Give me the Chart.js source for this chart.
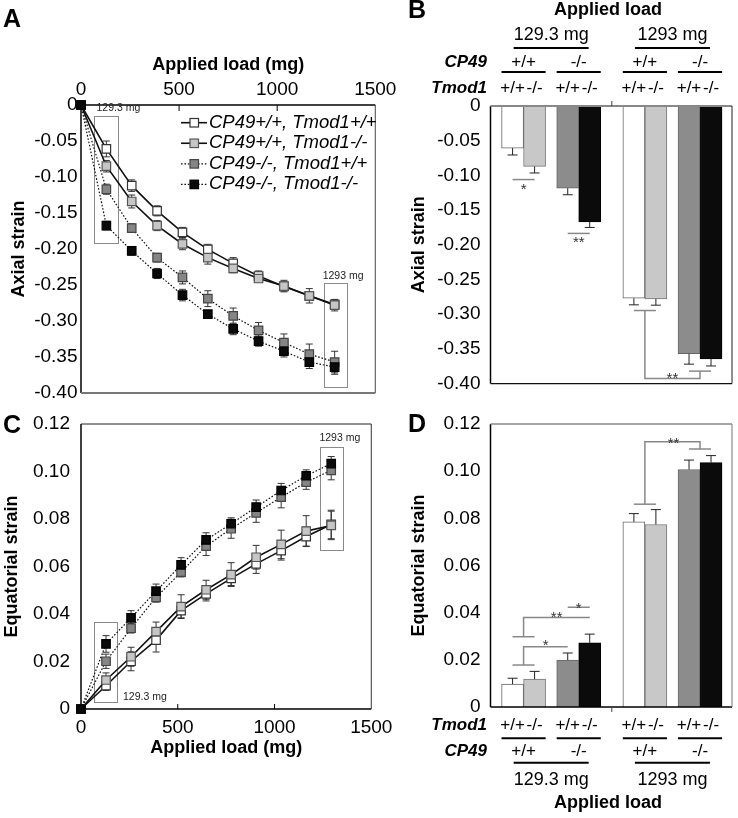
<!DOCTYPE html>
<html><head><meta charset="utf-8">
<script src="https://cdn.jsdelivr.net/npm/chart.js@4.4.0/dist/chart.umd.min.js"></script>
<style>
html,body{margin:0;padding:0;background:#fff;}
#wrap{position:relative;width:738px;height:818px;overflow:hidden;background:#fff;}
canvas{position:absolute;}
</style></head><body>
<div id="wrap">
<canvas id="cA" width="400" height="410" style="left:0;top:0;width:400px;height:410px"></canvas>
<canvas id="cC" width="400" height="418" style="left:0;top:400px;width:400px;height:418px"></canvas>
<canvas id="cB" width="358" height="405" style="left:380px;top:0;width:358px;height:405px"></canvas>
<canvas id="cD" width="358" height="418" style="left:380px;top:400px;width:358px;height:418px"></canvas>
</div>
<script>
// ---------------- DATA ----------------
const loads = [0, 129.3, 258.6, 387.9, 517.2, 646.5, 775.8, 905.1, 1034.4, 1163.7, 1293];
const seriesNames = ['CP49+/+, Tmod1+/+', 'CP49+/+, Tmod1-/-', 'CP49-/-, Tmod1+/+', 'CP49-/-, Tmod1-/-'];

// Panel A: axial strain
const axialWtWt = [0, -0.061, -0.112, -0.147, -0.177, -0.2005, -0.220, -0.2375, -0.252, -0.265, -0.277];
const axialWtKo = [0, -0.085, -0.134, -0.1675, -0.193, -0.212, -0.227, -0.241, -0.2515, -0.265, -0.278];
const axialKoWt = [0, -0.117, -0.171, -0.212, -0.2395, -0.269, -0.293, -0.313, -0.330, -0.346, -0.357];
const axialKoKo = [0, -0.1675, -0.2025, -0.234, -0.264, -0.2905, -0.311, -0.328, -0.342, -0.357, -0.364];
const axialWtWtErr = [0, 0.011, 0.008, 0.007, 0.007, 0.007, 0.008, 0.007, 0.006, 0.005, 0.005];
const axialWtKoErr = [0, 0.008, 0.009, 0.007, 0.008, 0.009, 0.006, 0.005, 0.008, 0.010, 0.008];
const axialKoWtErr = [0, 0.007, 0.006, 0.006, 0.009, 0.011, 0.011, 0.011, 0.012, 0.014, 0.015];
const axialKoKoErr = [0, 0.006, 0.006, 0.007, 0.008, 0.005, 0.008, 0.007, 0.008, 0.009, 0.010];

// Panel C: equatorial strain
const eqWtWt = [0, 0.0098, 0.0201, 0.029, 0.0414, 0.0485, 0.055, 0.0611, 0.0667, 0.0726, 0.0777];
const eqWtKo = [0, 0.0122, 0.022, 0.0326, 0.0431, 0.0502, 0.0566, 0.0639, 0.0693, 0.0749, 0.0773];
const eqKoWt = [0, 0.0201, 0.034, 0.047, 0.0576, 0.0686, 0.0759, 0.0826, 0.0892, 0.0955, 0.1005];
const eqKoKo = [0, 0.0274, 0.0384, 0.0496, 0.0607, 0.0712, 0.078, 0.085, 0.092, 0.0982, 0.1033];
const eqWtWtErr = [0, 0.002, 0.004, 0.005, 0.003, 0.003, 0.003, 0.004, 0.004, 0.004, 0.006];
const eqWtKoErr = [0, 0.003, 0.004, 0.004, 0.005, 0.004, 0.005, 0.005, 0.006, 0.0065, 0.006];
const eqKoWtErr = [0, 0.003, 0.002, 0.002, 0.002, 0.004, 0.004, 0.004, 0.0045, 0.003, 0.004];
const eqKoKoErr = [0, 0.0035, 0.003, 0.003, 0.003, 0.003, 0.0025, 0.003, 0.003, 0.0025, 0.003];

// Panels B and D: bars, order = [129.3 CP49+/+, 129.3 CP49-/-, 1293 CP49+/+, 1293 CP49-/-]
const barLoads = ['129.3 mg', '1293 mg'];
const cp49Groups = ['+/+', '-/-'];
const tmod1Groups = ['+/+', '-/-'];
const axialBarTmodWt = [-0.0606, -0.1184, -0.277, -0.357];
const axialBarTmodWtErr = [0.010, 0.0095, 0.0095, 0.015];
const axialBarTmodKo = [-0.087, -0.167, -0.278, -0.3646];
const axialBarTmodKoErr = [0.0095, 0.008, 0.009, 0.010];
const eqBarTmodWt = [0.0097, 0.0199, 0.0785, 0.1007];
const eqBarTmodWtErr = [0.0025, 0.003, 0.0035, 0.004];
const eqBarTmodKo = [0.0118, 0.0272, 0.0774, 0.1036];
const eqBarTmodKoErr = [0.0033, 0.0037, 0.0063, 0.003];

// ---------------- SETUP ----------------
const FONT = '"Liberation Sans", Arial, Helvetica, sans-serif';
Chart.defaults.font.family = FONT;
Chart.defaults.font.size = 19;
Chart.defaults.color = '#000';
Chart.defaults.animation = false;
Chart.defaults.events = [];
Chart.defaults.plugins.legend.display = false;
Chart.defaults.plugins.tooltip.enabled = false;

const fmt = v => Math.abs(v) < 1e-9 ? '0' : v.toFixed(2);
const fmtLoad = v => String(Math.round(v));

// series styles
const styles = [
  {fill: '#ffffff', stroke: '#333333', dash: [], lw: 1.6},
  {fill: '#c6c6c6', stroke: '#555555', dash: [], lw: 1.6},
  {fill: '#858585', stroke: '#444444', dash: [1.6, 1.8], lw: 1.2},
  {fill: '#0a0a0a', stroke: '#000000', dash: [1.6, 1.8], lw: 1.2}
];
const drawOrder = [3, 2, 1, 0];

function text(ctx, s, x, y, o = {}) {
  ctx.save();
  ctx.font = `${o.style || 'normal'} ${o.weight || 'normal'} ${o.size || 19}px ${FONT}`;
  ctx.fillStyle = o.color || '#000';
  ctx.textAlign = o.align || 'center';
  ctx.textBaseline = o.base || 'middle';
  ctx.fillText(s, x, y);
  ctx.restore();
}
function poly(ctx, pts, color, w) {
  ctx.save(); ctx.strokeStyle = color; ctx.lineWidth = w; ctx.lineCap = 'butt';
  ctx.beginPath();
  pts.forEach((p, i) => i ? ctx.lineTo(p[0], p[1]) : ctx.moveTo(p[0], p[1]));
  ctx.stroke(); ctx.restore();
}
function star(ctx, s, x, cy) {
  const size = 15;
  text(ctx, s, x, cy + 0.58 * size, {size, base: 'alphabetic', color: '#333'});
}

function yAxis(min, max, step, pad, title, titlePad, width) {
  return {
    type: 'linear', min, max,
    ticks: {stepSize: step, padding: pad, callback: fmt, font: {size: 19}},
    grid: {display: false, drawTicks: false}, border: {display: false},
    title: {display: true, text: title, font: {size: 18, weight: 'bold'}, padding: {top: titlePad, bottom: 0}},
    afterFit: s => { s.width = width; }
  };
}

// error bars: mode 'both' (lines) or 'away' (bars)
const errorBars = {
  id: 'errorBars',
  beforeDatasetsDraw(chart, a, o) { if (o.mode === 'both') drawErr(chart, o); },
  afterDatasetsDraw(chart, a, o) { if (o.mode === 'away') drawErr(chart, o); }
};
function drawErr(chart, o) {
  const ctx = chart.ctx, ys = chart.scales.y;
  chart.data.datasets.forEach((ds, di) => {
    const meta = chart.getDatasetMeta(di);
    ds.errors.forEach((e, i) => {
      if (!e) return;
      const el = meta.data[i], v = ds.data[i].y;
      const cw = o.cap;
      if (o.mode === 'both') {
        const y1 = ys.getPixelForValue(v + e), y2 = ys.getPixelForValue(v - e);
        poly(ctx, [[el.x, y1], [el.x, y2]], o.color, 1);
        poly(ctx, [[el.x - cw, y1], [el.x + cw, y1]], o.color, 1);
        poly(ctx, [[el.x - cw, y2], [el.x + cw, y2]], o.color, 1);
      } else {
        const sgn = v < 0 ? -1 : 1;
        const y2 = ys.getPixelForValue(v + sgn * e);
        poly(ctx, [[el.x, el.y], [el.x, y2]], o.color, 1);
        poly(ctx, [[el.x - cw, y2], [el.x + cw, y2]], o.color, 1);
      }
    });
  });
}

function framePlugin(sides, ticks, when) {
  const fn = (chart) => {
    const ctx = chart.ctx, a = chart.chartArea;
    sides.forEach(s => {
      const p = {left: [[a.left, a.top], [a.left, a.bottom]], right: [[a.right, a.top], [a.right, a.bottom]],
                 top: [[a.left, a.top], [a.right, a.top]], bottom: [[a.left, a.bottom], [a.right, a.bottom]]}[s.side];
      poly(ctx, p, s.color, s.width);
    });
    ticks.forEach(t => {
      const xs = chart.scales.x;
      t.values.forEach(v => {
        const x = xs.getPixelForValue(v);
        const y0 = t.edge === 'top' ? a.top : a.bottom;
        poly(ctx, [[x, y0], [x, y0 + t.len]], t.color || '#000', 1);
      });
    });
  };
  return when === 'before' ? {id: 'frame', beforeDatasetsDraw: fn} : {id: 'frame', afterDatasetsDraw: fn};
}

function boxesPlugin(boxes) {
  return {
    id: 'boxes',
    beforeDatasetsDraw(chart) {
      const ctx = chart.ctx, xs = chart.scales.x, ys = chart.scales.y;
      boxes.forEach(b => {
        const x0 = xs.getPixelForValue(b.x0), x1 = xs.getPixelForValue(b.x1);
        const y0 = ys.getPixelForValue(b.y0), y1 = ys.getPixelForValue(b.y1);
        ctx.save(); ctx.strokeStyle = '#8a8a8a'; ctx.lineWidth = 1;
        ctx.strokeRect(Math.round(x0) + 0.5, Math.round(Math.min(y0, y1)) + 0.5, Math.round(x1 - x0), Math.round(Math.abs(y1 - y0)));
        ctx.restore();
        text(ctx, b.label, xs.getPixelForValue(b.lx), ys.getPixelForValue(b.ly), {size: 10.5, align: 'left', color: '#222'});
      });
    }
  };
}

function letterPlugin(letter, x, y) {
  return {id: 'letter', afterDraw(chart) { text(chart.ctx, letter, x, y, {size: 25, weight: 'bold', base: 'alphabetic', align: 'left'}); }};
}

function lineDatasets(vals, errs) {
  return vals.map((v, k) => ({
    label: seriesNames[k],
    data: loads.map((x, i) => ({x, y: v[i]})),
    errors: errs[k],
    borderColor: '#111', borderWidth: styles[k].lw, borderDash: styles[k].dash,
    pointStyle: 'rect', pointRadius: 6, pointHoverRadius: 6,
    pointBackgroundColor: styles[k].fill, pointBorderColor: styles[k].stroke, pointBorderWidth: 1.2,
    fill: false, tension: 0, clip: false, order: drawOrder[k]
  }));
}

// ---------------- PANEL A ----------------
const legendA = {
  id: 'legendA',
  afterDraw(chart) {
    const ctx = chart.ctx;
    chart.data.datasets.forEach((ds, i) => {
      const y = 122.7 + i * 20.55;
      ctx.save(); ctx.setLineDash(ds.borderDash); 
      poly(ctx, [[181, y], [207, y]], '#111', ds.borderWidth);
      ctx.restore();
      ctx.save();
      ctx.fillStyle = ds.pointBackgroundColor; ctx.strokeStyle = ds.pointBorderColor; ctx.lineWidth = 1.2;
      ctx.fillRect(190, y - 4.2, 8.5, 8.5); ctx.strokeRect(190, y - 4.2, 8.5, 8.5);
      ctx.restore();
      text(ctx, ds.label, 209, y, {size: 18.5, style: 'italic', align: 'left'});
    });
  }
};

new Chart(document.getElementById('cA'), {
  type: 'line',
  data: {datasets: lineDatasets([axialWtWt, axialWtKo, axialKoWt, axialKoKo], [axialWtWtErr, axialWtKoErr, axialKoWtErr, axialKoKoErr])},
  options: {
    responsive: false,
    layout: {padding: {left: 0, top: 0, right: 22, bottom: 17}},
    plugins: {errorBars: {mode: 'both', cap: 3.5, color: '#333'}},
    scales: {
      x: {
        type: 'linear', position: 'top', min: 0, max: 1500,
        ticks: {stepSize: 500, padding: 3.6, maxRotation: 0, autoSkip: false, font: {size: 19}, callback: fmtLoad},
        grid: {display: false, drawTicks: false}, border: {display: false},
        title: {display: true, text: 'Applied load (mg)', font: {size: 18, weight: 'bold'}, padding: {top: 54.2, bottom: 0}},
        afterFit: s => { s.height = 105; }
      },
      y: yAxis(-0.4, 0, 0.05, 3.5, 'Axial strain', 8, 81)
    }
  },
  plugins: [errorBars,
    framePlugin([{side: 'left', color: '#000', width: 1.5}, {side: 'top', color: '#000', width: 1.5},
                 {side: 'right', color: '#444', width: 1}, {side: 'bottom', color: '#777', width: 2}],
                [{values: [500, 1000], edge: 'top', len: 6}], 'before'),
    boxesPlugin([
      {x0: 66, x1: 187, y0: -0.0153, y1: -0.1917, label: '129.3 mg', lx: 79, ly: -0.005},
      {x0: 1237, x1: 1353, y0: -0.247, y1: -0.392, label: '1293 mg', lx: 1232, ly: -0.2375}
    ]),
    legendA, letterPlugin('A', 3, 27)]
});

// ---------------- PANEL C ----------------
new Chart(document.getElementById('cC'), {
  type: 'line',
  data: {datasets: lineDatasets([eqWtWt, eqWtKo, eqKoWt, eqKoKo], [eqWtWtErr, eqWtKoErr, eqKoWtErr, eqKoKoErr])},
  options: {
    responsive: false,
    layout: {padding: {left: 0, top: 24, right: 22, bottom: 59}},
    plugins: {errorBars: {mode: 'both', cap: 3.5, color: '#333'}},
    scales: {
      x: {
        type: 'linear', position: 'bottom', min: 0, max: 1500,
        ticks: {stepSize: 500, padding: 7.6, maxRotation: 0, autoSkip: false, font: {size: 19}, callback: fmtLoad},
        grid: {display: false, drawTicks: false}, border: {display: false},
        title: {display: true, text: 'Applied load (mg)', font: {size: 18, weight: 'bold'}, padding: {top: 0, bottom: 0.2}},
        afterFit: s => { s.height = 50; }
      },
      y: yAxis(0, 0.12, 0.02, 11, 'Equatorial strain', 1.7, 81)
    }
  },
  plugins: [errorBars,
    framePlugin([{side: 'left', color: '#000', width: 1.5}, {side: 'bottom', color: '#000', width: 1.5},
                 {side: 'right', color: '#333', width: 1}, {side: 'top', color: '#222', width: 1}],
                [{values: [500, 1000], edge: 'bottom', len: -5}], 'before'),
    boxesPlugin([
      {x0: 67, x1: 188, y0: 0.0366, y1: 0.0031, label: '129.3 mg', lx: 217, ly: 0.0048},
      {x0: 1236, x1: 1355, y0: 0.1104, y1: 0.0672, label: '1293 mg', lx: 1232, ly: 0.114}
    ]),
    letterPlugin('C', 3, 33)]
});

// ---------------- BAR PANELS ----------------
const pairPos = barLoads.flatMap((l, li) => cp49Groups.map((c, ci) => 1 + li * 2.2 + ci));
const fillTmodWt = ['#ffffff', '#8c8c8c', '#ffffff', '#8c8c8c'];
const fillTmodKo = ['#c8c8c8', '#0b0b0b', '#c8c8c8', '#0b0b0b'];
const edgeTmodWt = ['#666', '#666', '#666', '#666'];
const edgeTmodKo = ['#777', '#000', '#777', '#000'];

function barDatasets(v1, e1, v2, e2) {
  return [
    {label: 'Tmod1+/+', data: pairPos.map((x, i) => ({x, y: v1[i]})), errors: e1,
     backgroundColor: fillTmodWt, borderColor: edgeTmodWt, borderWidth: 1, barThickness: 22},
    {label: 'Tmod1-/-', data: pairPos.map((x, i) => ({x, y: v2[i]})), errors: e2,
     backgroundColor: fillTmodKo, borderColor: edgeTmodKo, borderWidth: 1, barThickness: 22}
  ];
}
function barX(position) {
  return {
    type: 'linear', position, min: 0.4, max: 4.78, offset: false,
    ticks: {display: false}, grid: {display: false, drawTicks: false}, border: {display: false},
    afterBuildTicks: s => { s.ticks = [{value: 2.6}]; },
    afterFit: s => { s.height = position === 'top' ? 106 : 5; }
  };
}
function statsPlugin(stats) {
  return {
    id: 'stats',
    afterDatasetsDraw(chart) {
      const ctx = chart.ctx, xs = chart.scales.x, ys = chart.scales.y;
      stats.forEach(st => {
        st.segs.forEach(seg => poly(ctx, seg.map(p => [xs.getPixelForValue(p[0]), ys.getPixelForValue(p[1])]), '#888', 1.5));
        star(ctx, st.star, xs.getPixelForValue(st.at[0]), ys.getPixelForValue(st.at[1]));
      });
    }
  };
}
function genotypeRows(ctx, chart, rows) {
  const xs = chart.scales.x, a = chart.chartArea;
  text(ctx, 'Applied load', 228, rows.title, {size: 18, weight: 'bold'});
  barLoads.forEach((l, li) => {
    const c = (pairPos[li * 2] + pairPos[li * 2 + 1]) / 2;
    text(ctx, l, xs.getPixelForValue(c), rows.load, {size: 18});
    poly(ctx, [[xs.getPixelForValue(c - 0.68), rows.loadLine], [xs.getPixelForValue(c + 0.68), rows.loadLine]], '#000', 2);
  });
  text(ctx, 'CP49', a.left - 3.5, rows.cp, {size: 17, weight: 'bold', style: 'italic', align: 'right'});
  text(ctx, 'Tmod1', a.left - 3.5, rows.tm, {size: 17, weight: 'bold', style: 'italic', align: 'right'});
  pairPos.forEach((p, i) => {
    text(ctx, cp49Groups[i % 2], xs.getPixelForValue(p), rows.cp, {size: 17});
    poly(ctx, [[xs.getPixelForValue(p - 0.4), rows.cpLine], [xs.getPixelForValue(p + 0.4), rows.cpLine]], '#000', 2);
    tmod1Groups.forEach((t, k) => text(ctx, t, xs.getPixelForValue(p - 0.2 + 0.4 * k), rows.tm, {size: 17}));
  });
}

// ---------------- PANEL B ----------------
new Chart(document.getElementById('cB'), {
  type: 'bar',
  data: {datasets: barDatasets(axialBarTmodWt, axialBarTmodWtErr, axialBarTmodKo, axialBarTmodKoErr)},
  options: {
    responsive: false,
    layout: {padding: {left: 0, top: 0, right: 6, bottom: 13}},
    plugins: {errorBars: {mode: 'away', cap: 5, color: '#222'}},
    scales: {x: barX('top'), y: yAxis(-0.4, 0, 0.05, 10, 'Axial strain', 28.2, 110.5)}
  },
  plugins: [errorBars,
    framePlugin([{side: 'left', color: '#000', width: 1.5}, {side: 'top', color: '#888', width: 2},
                 {side: 'right', color: '#222', width: 1}, {side: 'bottom', color: '#111', width: 1.2}],
                [{values: [2.6], edge: 'top', len: -5, color: '#444'}], 'after'),
    statsPlugin([
      {segs: [[[0.8, -0.106], [1.2, -0.106]]], star: '*', at: [1.0, -0.114]},
      {segs: [[[1.8, -0.1836], [2.2, -0.1836]]], star: '**', at: [2.0, -0.190]},
      {segs: [[[3.0, -0.2947], [3.4, -0.2947]], [[3.2, -0.2947], [3.2, -0.3926], [4.2, -0.3926], [4.2, -0.382]], [[4.0, -0.382], [4.4, -0.382]]],
       star: '**', at: [3.7, -0.386]}
    ]),
    {id: 'rowsB', afterDraw(chart) { genotypeRows(chart.ctx, chart, {title: 10, load: 35, loadLine: 48, cp: 62.5, cpLine: 72, tm: 88}); }},
    letterPlugin('B', 28, 18)]
});

// ---------------- PANEL D ----------------
new Chart(document.getElementById('cD'), {
  type: 'bar',
  data: {datasets: barDatasets(eqBarTmodWt, eqBarTmodWtErr, eqBarTmodKo, eqBarTmodKoErr)},
  options: {
    responsive: false,
    layout: {padding: {left: 0, top: 24, right: 6, bottom: 106}},
    plugins: {errorBars: {mode: 'away', cap: 5, color: '#222'}},
    scales: {x: barX('bottom'), y: yAxis(0, 0.12, 0.02, 10, 'Equatorial strain', 28.2, 110.5)}
  },
  plugins: [errorBars,
    framePlugin([{side: 'left', color: '#000', width: 1.5}, {side: 'bottom', color: '#000', width: 1.5},
                 {side: 'right', color: '#777', width: 1}, {side: 'top', color: '#888', width: 1.5}],
                [{values: [2.6], edge: 'bottom', len: 5, color: '#444'}], 'after'),
    statsPlugin([
      {segs: [[[0.8, 0.0178], [1.2, 0.0178]], [[1.0, 0.0178], [1.0, 0.0256], [1.8, 0.0256]]], star: '*', at: [1.4, 0.0277]},
      {segs: [[[0.8, 0.0298], [1.2, 0.0298]], [[1.0, 0.0298], [1.0, 0.038], [2.2, 0.038]]], star: '**', at: [1.6, 0.0397]},
      {segs: [[[1.8, 0.0423], [2.2, 0.0423]]], star: '*', at: [2.0, 0.0437]},
      {segs: [[[3.0, 0.086], [3.4, 0.086]], [[3.2, 0.086], [3.2, 0.1125], [4.2, 0.1125], [4.2, 0.1094]], [[4.0, 0.1094], [4.4, 0.1094]]],
       star: '**', at: [3.72, 0.1137]}
    ]),
    {id: 'rowsD', afterDraw(chart) {
      const ctx = chart.ctx, xs = chart.scales.x, a = chart.chartArea;
      text(ctx, 'Tmod1', a.left - 3.5, 325, {size: 17, weight: 'bold', style: 'italic', align: 'right'});
      text(ctx, 'CP49', a.left - 3.5, 351, {size: 17, weight: 'bold', style: 'italic', align: 'right'});
      pairPos.forEach((p, i) => {
        tmod1Groups.forEach((t, k) => text(ctx, t, xs.getPixelForValue(p - 0.2 + 0.4 * k), 325, {size: 17}));
        poly(ctx, [[xs.getPixelForValue(p - 0.4), 338.3], [xs.getPixelForValue(p + 0.4), 338.3]], '#000', 2);
        text(ctx, cp49Groups[i % 2], xs.getPixelForValue(p), 351, {size: 17});
      });
      barLoads.forEach((l, li) => {
        const c = (pairPos[li * 2] + pairPos[li * 2 + 1]) / 2;
        poly(ctx, [[xs.getPixelForValue(c - 0.68), 362.7], [xs.getPixelForValue(c + 0.68), 362.7]], '#000', 2);
        text(ctx, l, xs.getPixelForValue(c), 380, {size: 18});
      });
      text(ctx, 'Applied load', 228, 403, {size: 18, weight: 'bold'});
    }},
    letterPlugin('D', 28, 32)]
});
</script>
</body></html>
